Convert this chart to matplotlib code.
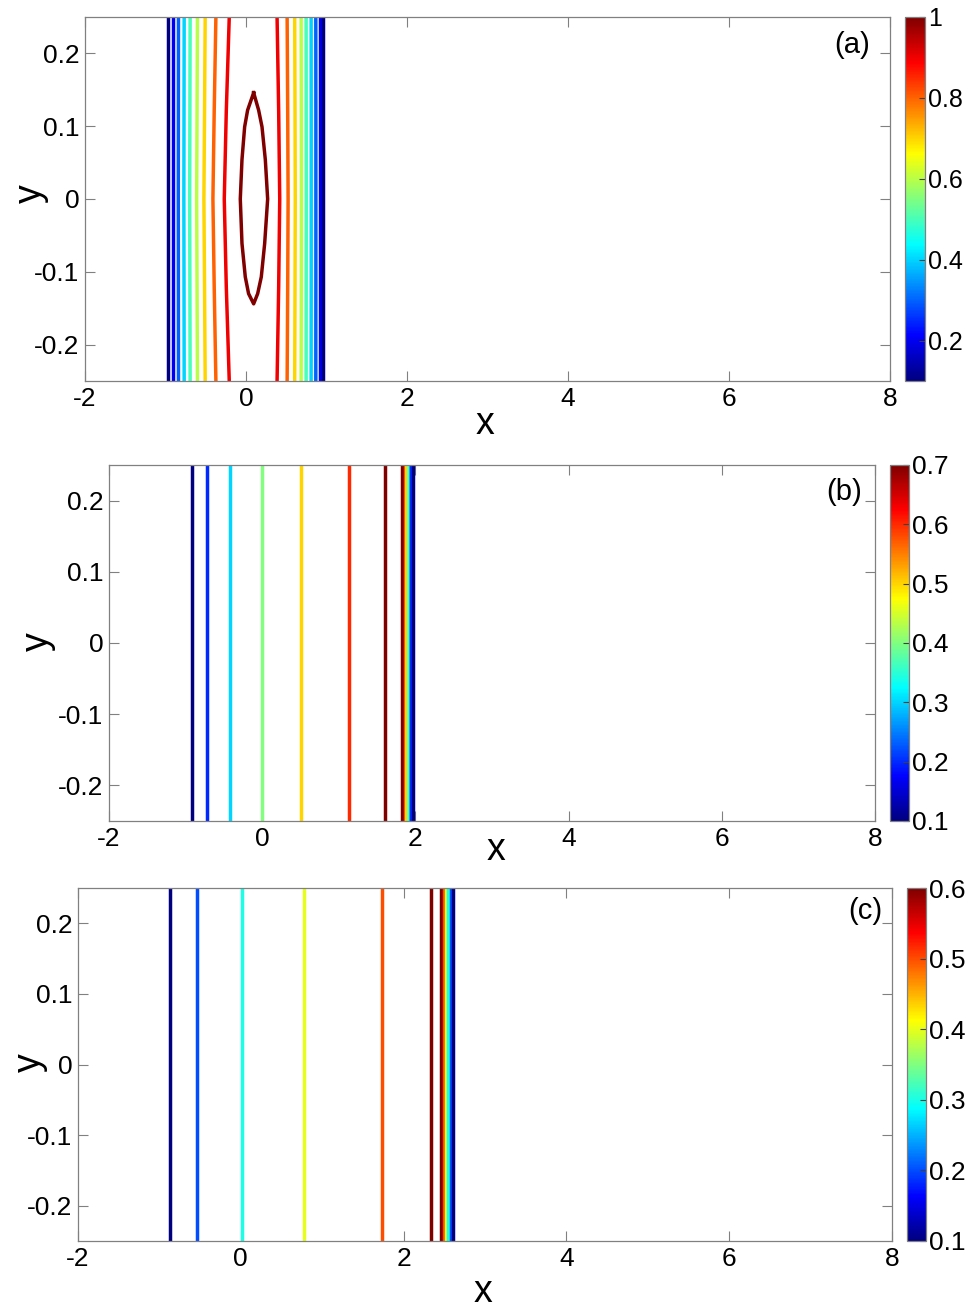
"""
Three contour panels (a)-(c): level lines of a front in the x-y plane, jet colours.
Lines are drawn from x positions read off the reference picture.
"""
import matplotlib
matplotlib.use("Agg")
import matplotlib.pyplot as plt
from matplotlib import colors, cm

plt.rcParams["font.family"] = ["Liberation Sans", "DejaVu Sans"]
plt.rcParams["axes.unicode_minus"] = False

# sample heights used for the (slightly curved) lines of panel (a)
A_Y = [-0.25, -0.12, 0.0, 0.12, 0.25]

# panel (a): levels left -> right, x at the edges, at y=+-0.12 and at y=0
A_LEVELS = [0.1, 0.2, 0.3, 0.4, 0.5, 0.6, 0.7, 0.8, 0.9,
            0.9, 0.8, 0.7, 0.6, 0.5, 0.4, 0.3, 0.2, 0.1]
A_X_EDGE = [-0.964, -0.909, -0.839, -0.768, -0.694, -0.603, -0.507, -0.374, -0.208,
            0.386, 0.511, 0.605, 0.685, 0.747, 0.809, 0.867, 0.917, 0.960]
A_X_QUART = [-0.964, -0.909, -0.840, -0.770, -0.697, -0.608, -0.515, -0.395, -0.245,
             0.406, 0.518, 0.609, 0.687, 0.748, 0.810, 0.868, 0.917, 0.960]
A_X_MID = [-0.964, -0.909, -0.841, -0.772, -0.700, -0.613, -0.523, -0.411, -0.270,
           0.419, 0.523, 0.612, 0.688, 0.749, 0.810, 0.868, 0.917, 0.960]
# closed level-1 contour around the peak
A_PEAK_LEVEL = 1.0
A_PEAK_X = [0.095, 0.157, 0.199, 0.240, 0.269, 0.232, 0.190, 0.145, 0.095,
            0.032, -0.009, -0.050, -0.071, -0.050, -0.017, 0.020, 0.095]
A_PEAK_Y = [0.146, 0.122, 0.099, 0.054, 0.0, -0.061, -0.107, -0.130, -0.144,
            -0.130, -0.107, -0.061, 0.0, 0.054, 0.099, 0.122, 0.146]
A_RANGE = (0.1, 1.0)
A_CTICKS = [0.2, 0.4, 0.6, 0.8, 1.0]
A_CLABELS = ["0.2", "0.4", "0.6", "0.8", "1"]

# panel (b): straight vertical lines
B_LEVELS = [0.1, 0.2, 0.3, 0.4, 0.5, 0.6, 0.7, 0.7, 0.6, 0.5, 0.4, 0.3, 0.2, 0.1]
B_X = [-0.917, -0.727, -0.418, -0.009, 0.509, 1.130, 1.600,
       1.826, 1.859, 1.883, 1.902, 1.924, 1.948, 1.967]
B_RANGE = (0.1, 0.7)
B_CTICKS = [0.1, 0.2, 0.3, 0.4, 0.5, 0.6, 0.7]
B_CLABELS = ["0.1", "0.2", "0.3", "0.4", "0.5", "0.6", "0.7"]

# panel (c)
C_LEVELS = [0.1, 0.2, 0.3, 0.4, 0.5, 0.6, 0.6, 0.5, 0.4, 0.3, 0.2, 0.1]
C_X = [-0.873, -0.534, 0.017, 0.776, 1.738, 2.334,
       2.460, 2.499, 2.524, 2.551, 2.579, 2.610]
C_RANGE = (0.1, 0.6)
C_CTICKS = [0.1, 0.2, 0.3, 0.4, 0.5, 0.6]
C_CLABELS = ["0.1", "0.2", "0.3", "0.4", "0.5", "0.6"]

X_TICKS = [-2, 0, 2, 4, 6, 8]
Y_TICKS = [-0.2, -0.1, 0, 0.1, 0.2]
Y_LABELS = ["-0.2", "-0.1", "0", "0.1", "0.2"]

W, H = 972, 1308
SPINE = "#808080"
LW = 2.5

# MATLAB-style jet (sharper than matplotlib's)
JET = colors.LinearSegmentedColormap("mjet", {
    "red":   [(0, 0, 0), (3 / 8, 0, 0), (5 / 8, 1, 1), (7 / 8, 1, 1), (1, 0.5, 0.5)],
    "green": [(0, 0, 0), (1 / 8, 0, 0), (3 / 8, 1, 1), (5 / 8, 1, 1), (7 / 8, 0, 0), (1, 0, 0)],
    "blue":  [(0, 0.5, 0.5), (1 / 8, 1, 1), (3 / 8, 1, 1), (5 / 8, 0, 0), (1, 0, 0)],
}, N=256)


def px_rect(left, top, right, bottom):
    return [left / W, 1 - bottom / H, (right - left) / W, (bottom - top) / H]


def style_axes(ax):
    ax.set_xlim(-2, 8)
    ax.set_ylim(-0.25, 0.25)
    ax.set_xticks(X_TICKS)
    ax.set_yticks(Y_TICKS)
    ax.set_yticklabels(Y_LABELS)
    ax.tick_params(direction="in", length=7, width=0.8, color=SPINE,
                   top=True, right=True, labelsize=19, labelcolor="black")
    ax.tick_params(axis="x", pad=4)
    ax.tick_params(axis="y", pad=4)
    for s in ax.spines.values():
        s.set_color(SPINE)
        s.set_linewidth(0.9)


def add_cbar(fig, rect, rng, ticks, labels, fs):
    cax = fig.add_axes(rect)
    sm = cm.ScalarMappable(norm=colors.Normalize(*rng), cmap=JET)
    cb = fig.colorbar(sm, cax=cax, ticks=ticks)
    cb.set_ticklabels(labels)
    cb.outline.set_edgecolor(SPINE)
    cb.outline.set_linewidth(0.9)
    cax.tick_params(direction="in", length=4, width=0.8, color="#404040",
                    labelsize=fs, pad=2)
    return cb


fig = plt.figure(figsize=(W / 100, H / 100), dpi=100)

# ---- (a)
ax = fig.add_axes(px_rect(85, 17, 890, 381))
norm = colors.Normalize(*A_RANGE)
for lev, xe, xq, xm in zip(A_LEVELS, A_X_EDGE, A_X_QUART, A_X_MID):
    ax.plot([xe, xq, xm, xq, xe], A_Y, color=JET(norm(lev)), lw=LW,
            solid_capstyle="butt")
ax.plot(A_PEAK_X, A_PEAK_Y, color=JET(norm(A_PEAK_LEVEL)), lw=LW)
style_axes(ax)
ax.text(0.975, 0.923, "(a)", transform=ax.transAxes, ha="right", va="center", fontsize=21)
ax.text(0.497, -0.118, "x", transform=ax.transAxes, ha="center", va="center", fontsize=27)
ax.text(-0.067, 0.516, "y", transform=ax.transAxes, ha="center", va="center",
        rotation=90, fontsize=27)
add_cbar(fig, px_rect(905, 17, 925, 381), A_RANGE, A_CTICKS, A_CLABELS, 18)

# ---- (b) and (c)
panels = [
    ("(b)", B_LEVELS, B_X, B_RANGE, B_CTICKS, B_CLABELS,
     (109, 465, 875, 821), (890, 465, 909, 821),
     (0.983, 0.924), (0.505, -0.081), (-0.0927, 0.503)),
    ("(c)", C_LEVELS, C_X, C_RANGE, C_CTICKS, C_CLABELS,
     (78, 888, 892, 1241), (907, 888, 926, 1241),
     (0.988, 0.935), (0.4975, -0.144), (-0.059, 0.504)),
]
for tag, levels, xs, rng, cticks, clabels, arect, crect, tpos, xlpos, ylpos in panels:
    ax = fig.add_axes(px_rect(*arect))
    norm = colors.Normalize(*rng)
    for lev, x in zip(levels, xs):
        ax.plot([x, x], [-0.25, 0.25], color=JET(norm(lev)), lw=LW,
                solid_capstyle="butt")
    style_axes(ax)
    ax.text(*tpos, tag, transform=ax.transAxes, ha="right", va="center", fontsize=21)
    ax.text(*xlpos, "x", transform=ax.transAxes, ha="center", va="center", fontsize=27)
    ax.text(*ylpos, "y", transform=ax.transAxes, ha="center", va="center",
            rotation=90, fontsize=27)
    add_cbar(fig, px_rect(*crect), rng, cticks, clabels, 19)

fig.savefig("out.png", dpi=100)
